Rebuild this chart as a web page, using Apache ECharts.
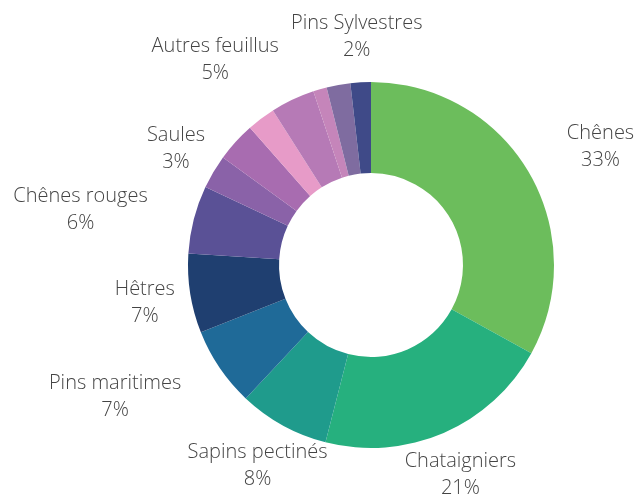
<!DOCTYPE html>
<html>
<head>
<meta charset="utf-8">
<script src="https://cdn.jsdelivr.net/npm/echarts@6/dist/echarts.min.js"></script>
<style>
  html, body { margin: 0; padding: 0; background: #ffffff; }
  #chart { width: 639px; height: 495px; }
</style>
</head>
<body>
<div id="chart"></div>
<script>
// Slices, clockwise from 12 o'clock (unnamed slices carry no label in the source)
var species = ['Chênes', 'Chataigniers', 'Sapins pectinés', 'Pins maritimes', 'Hêtres',
               'Chênes rouges', 'Saules', '', '', 'Autres feuillus', '', '', 'Pins Sylvestres'];
var shares = [33, 21, 8, 7, 7, 6, 3, 3.5, 2.5, 3.9, 1.2, 2.1, 1.8];
var shareLabels = ['33%', '21%', '8%', '7%', '7%', '6%', '3%', null, null, '5%', null, null, '2%'];
var colors = ['#6cbd5c', '#26b07e', '#1f9b8c', '#1f6a98', '#1f3f70',
              '#5a5196', '#8a62a8', '#a86cb0', '#e79bc8', '#b67ab6', '#c585ba', '#7f6ca0', '#3f4a88'];

// label placement: [angle nudge in degrees, distance from centre in px]
var labelNudge = [[3.0, 259], [0.1, 226], [0.9, 229], [7.3, 287], [0.0, 229], [-3.3, 296],
                  [0.6, 228], null, null, [-11.6, 259], null, null, [-0.3, 231]];

var cx = 371, cy = 265;
var total = shares.reduce(function (a, b) { return a + b; }, 0);
var midAngles = [];
var acc = 0;
shares.forEach(function (v) {
    midAngles.push((acc + v / 2) / total * 360);
    acc += v;
});

var chart = echarts.init(document.getElementById('chart'));

var pieData = species.map(function (name, i) {
    return {
        name: name,
        value: shares[i],
        itemStyle: { color: colors[i] },
        label: { show: shareLabels[i] !== null }
    };
});

chart.setOption({
    backgroundColor: '#ffffff',
    animation: false,
    series: [{
        type: 'pie',
        center: [cx, cy],
        radius: [92, 183],
        startAngle: 90,
        clockwise: true,
        avoidLabelOverlap: false,
        data: pieData,
        itemStyle: { borderWidth: 0 },
        label: {
            position: 'outside',
            fontFamily: 'Open Sans',
            fontWeight: 300,
            fontSize: 20,
            lineHeight: 27,
            color: '#444444',
            formatter: function (p) {
                return p.name + '\n' + shareLabels[p.dataIndex];
            }
        },
        labelLine: { show: false },
        labelLayout: function (params) {
            var n = labelNudge[params.dataIndex];
            if (!n) return {};
            var a = (midAngles[params.dataIndex] + n[0]) * Math.PI / 180;
            return {
                x: cx + n[1] * Math.sin(a),
                y: cy - n[1] * Math.cos(a) + 2,
                align: 'center',
                verticalAlign: 'middle',
                hideOverlap: false
            };
        },
        emphasis: { disabled: true }
    }]
});

window.addEventListener('resize', function () {
    chart.resize();
});
</script>
</body>
</html>
